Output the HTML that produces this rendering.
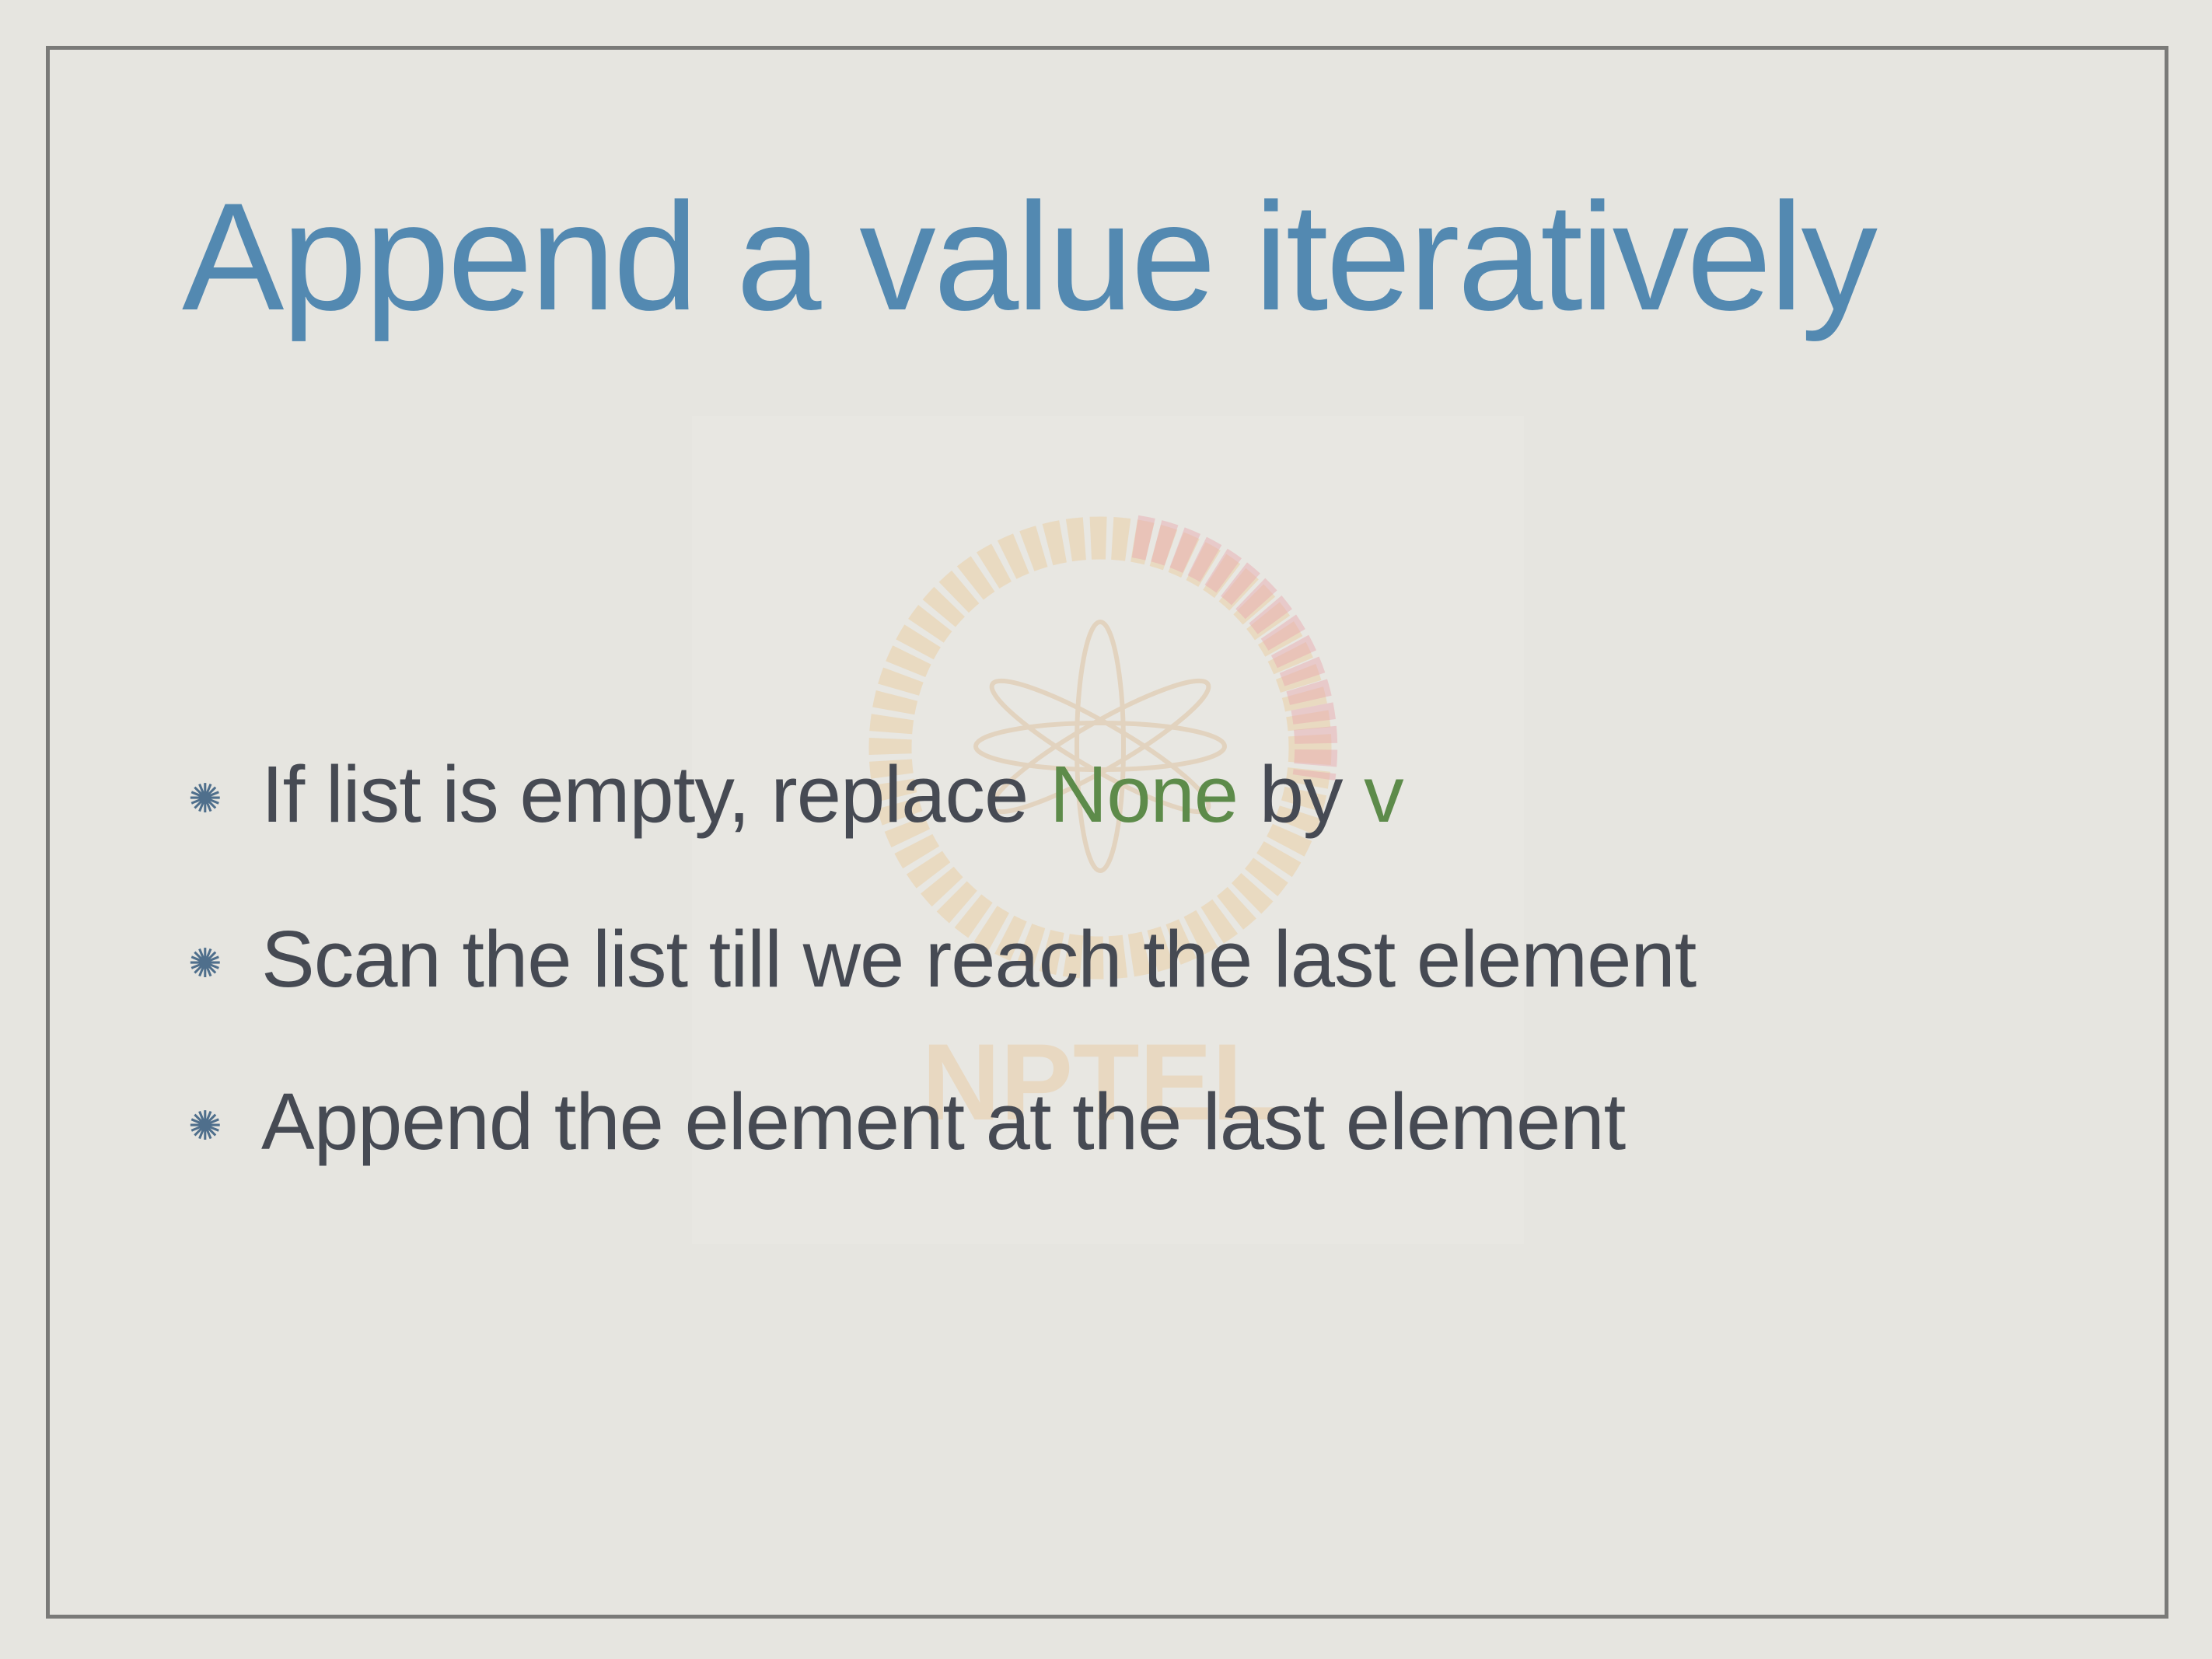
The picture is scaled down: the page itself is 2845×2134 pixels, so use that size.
<!DOCTYPE html>
<html><head><meta charset="utf-8"><style>
html,body{margin:0;padding:0}
body{width:2845px;height:2134px;background:#e6e5e0;position:relative;overflow:hidden;font-family:"Liberation Sans",Arial,sans-serif}
.frame{position:absolute;left:59px;top:59px;width:2720px;height:2013px;border:5px solid #7a7a78}
.title{position:absolute;left:234px;top:232px;font-size:197px;color:#5389b1;white-space:nowrap;letter-spacing:-3px;line-height:1}
.b{position:absolute;left:336px;font-size:103px;color:#464a53;white-space:nowrap;line-height:1;letter-spacing:-1px}
.s{position:absolute;left:242px;font-size:52px;color:#4f6f8c;line-height:1}
.g{color:#5d8b4a}
.wm{position:absolute;left:890px;top:535px;width:1070px;height:1065px;background:rgba(236,235,230,0.35)}
</style></head><body>
<div class="wm"></div>
<svg style="position:absolute;left:0;top:0" width="2845" height="2134">
<circle cx="1415" cy="962" r="270" fill="none" stroke="#ecc99a" stroke-width="55" stroke-dasharray="20 8" opacity="0.45"/>
<path d="M1460 690 A275 275 0 0 1 1690 1000" fill="none" stroke="#e8a6ae" stroke-width="55" stroke-dasharray="20 8" opacity="0.45"/>
<g opacity="0.35" fill="none" stroke="#d9b07f" stroke-width="6">
<ellipse cx="1415" cy="960" rx="30" ry="160"/>
<ellipse cx="1415" cy="960" rx="30" ry="160" transform="rotate(60 1415 960)"/>
<ellipse cx="1415" cy="960" rx="30" ry="160" transform="rotate(120 1415 960)"/>
<ellipse cx="1415" cy="960" rx="160" ry="30"/>
</g>
<text x="1415" y="1440" text-anchor="middle" font-family="Liberation Sans" font-weight="bold" font-size="140" fill="#e9c79a" opacity="0.45">NPTEL</text>
</svg>
<div class="frame"></div>
<div class="title">Append a value iteratively</div>
<div class="s" style="top:1002px">✺</div>
<div class="b" style="top:970px">If list is empty, replace <span class="g">None</span> by <span class="g">v</span></div>
<div class="s" style="top:1214px">✺</div>
<div class="b" style="top:1182px">Scan the list till we reach the last element</div>
<div class="s" style="top:1423px">✺</div>
<div class="b" style="top:1391px">Append the element at the last element</div>
</body></html>
